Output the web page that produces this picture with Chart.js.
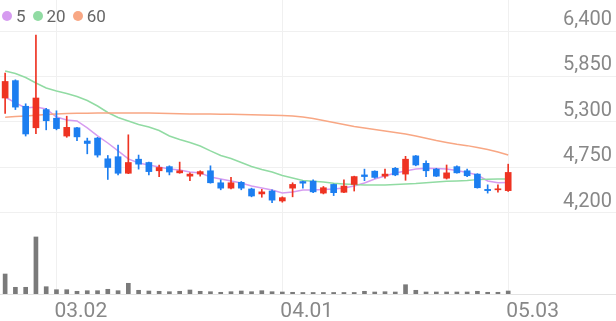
<!DOCTYPE html>
<html>
<head>
<meta charset="utf-8">
<script src="https://cdn.jsdelivr.net/npm/chart.js@4.4.1/dist/chart.umd.min.js"></script>
<style>
  html, body { margin: 0; padding: 0; background: #fff; }
  #wrap { position: relative; width: 616px; height: 321px; }
  #legend { position: absolute; left: 2px; top: 6px; display: flex; align-items: center;
            font: 17px Roboto, sans-serif; color: #666; line-height: 20px; }
  #legend .item { display: flex; align-items: center; margin-right: 7px; }
  #legend .dot { width: 10px; height: 10px; border-radius: 50%; margin-right: 4px; }
</style>
</head>
<body>
<div id="wrap">
  <canvas id="chart"></canvas>
  <div id="legend"></div>
</div>
<script>
// trading days shown (MM.DD)
const dates = ['02.22','02.23','02.24','02.25','02.26',
  '03.02','03.03','03.04','03.05','03.08','03.09','03.10','03.11','03.12','03.15','03.16',
  '03.17','03.18','03.19','03.22','03.23','03.24','03.25','03.26','03.29','03.30','03.31',
  '04.01','04.02','04.05','04.06','04.07','04.08','04.09','04.12','04.13','04.14','04.15',
  '04.16','04.19','04.20','04.21','04.22','04.23','04.26','04.27','04.28','04.29','04.30',
  '05.03'];
const tickLabels = ['03.02', '04.01', '05.03'];
const priceTicks = [4200, 4750, 5300, 5850, 6400];

const opens  = [5590,5800,5490,5230,5450,5345,5130,5230,5070,5105, 4855,4880,4680,4850,4810,4710,4760,4685,4645,4670,
                4710,4565,4500,4570,4490,4430,4465,4345,4500,4580, 4585,4440,4545,4450,4545,4660,4705,4645,4740,4670,
                4890,4800,4730,4620,4760,4710,4670,4485,4480,4470];
const highs  = [5890,5810,5520,6350,5465,5435,5370,5235,5105,5115, 4895,5020,5145,4900,4815,4780,4770,4815,4685,4710,
                4770,4600,4630,4580,4500,4485,4480,4395,4565,4585, 4600,4520,4550,4600,4645,4730,4710,4730,4750,4885,
                4895,4830,4740,4780,4770,4730,4675,4540,4540,4790];
const lows   = [5405,5450,5130,5160,5205,5205,5115,5075,4915,4875, 4605,4660,4675,4730,4660,4640,4660,4680,4590,4645,
                4560,4480,4490,4480,4395,4390,4325,4330,4395,4500, 4445,4430,4410,4445,4465,4590,4620,4620,4650,4595,
                4770,4640,4640,4610,4680,4640,4500,4440,4450,4460];
const closes = [5790,5480,5155,5590,5315,5220,5235,5120,5040,4900, 4750,4680,4810,4790,4700,4750,4695,4710,4670,4700,
                4565,4500,4565,4500,4405,4455,4355,4385,4545,4560, 4455,4505,4445,4525,4640,4640,4630,4670,4660,4850,
                4780,4710,4645,4685,4685,4650,4505,4470,4485,4690];

const ma5  = [5602,5530,5469,5481,5457,5360,5324,5312,5228,5131, 5046,4950,4853,4804,4780,4756,4732,4720,4696,4684,
              4635,4611,4587,4563,4526,4502,4478,4442,4454,4478, 4478,4484,4490,4502,4526,4563,4611,4647,4684,4708,
              4732,4740,4738,4732,4714,4690,4659,4587,4566,4569];
const ma20 = [5917,5886,5838,5771,5711,5675,5645,5608,5560,5493, 5415,5354,5312,5270,5240,5197,5131,5088,5052,5010,
              4950,4895,4859,4810,4762,4726,4696,4653,4623,4593, 4583,4575,4559,4551,4545,4538,4538,4538,4545,4551,
              4557,4566,4575,4583,4587,4593,4603,4607,4611,4611];
const ma60 = [5357,5367,5373,5381,5391,5397,5402,5405,5406,5409, 5409,5409,5409,5409,5409,5405,5403,5400,5397,5397,
              5397,5394,5393,5391,5388,5385,5382,5379,5373,5360, 5342,5318,5294,5270,5246,5228,5209,5191,5173,5155,
              5131,5103,5076,5052,5030,5014,4992,4968,4937,4901];

const volumes = [340000,114000,114000,970000,124000,73000,73000,46000,56000,56000,
                 80000,56000,182000,63000,51000,46000,39000,46000,68000,46000,
                 39000,29000,39000,51000,39000,56000,39000,34000,29000,26000,
                 26000,26000,26000,26000,26000,46000,34000,39000,34000,158000,
                 63000,34000,34000,34000,34000,34000,46000,29000,29000,51000];

const SLOTS = 60; // room left empty on the right of the last candle
const UP = '#ee3322', DOWN = '#1c7ef0';
const maLines = [
  { label: '5',  data: ma5,  color: '#d69cf0' },
  { label: '20', data: ma20, color: '#91dba3' },
  { label: '60', data: ma60, color: '#f8a784' }
];

const candleColor = ctx => closes[ctx.dataIndex] >= opens[ctx.dataIndex] ? UP : DOWN;
const pts = arr => arr.map((v, i) => ({ x: i, y: v }));

// html legend
const legend = document.getElementById('legend');
maLines.forEach(m => {
  const item = document.createElement('span');
  item.className = 'item';
  item.innerHTML = '<span class="dot" style="background:' + m.color + '"></span>' + m.label;
  legend.appendChild(item);
});

const datasets = [];
maLines.slice().reverse().forEach(m => {
  datasets.push({ type: 'line', label: m.label, data: pts(m.data), yAxisID: 'y',
    borderColor: m.color, borderWidth: 1.5, pointRadius: 0, tension: 0, order: 5 });
});
datasets.push({ type: 'bar', label: 'volume', yAxisID: 'vol', order: 6, grouped: false,
  data: volumes.map((v, i) => ({ x: i, y: v })), backgroundColor: '#7a7a7a', barThickness: 4 });
datasets.push({ type: 'bar', label: 'wick', yAxisID: 'y', order: 2, grouped: false,
  data: lows.map((l, i) => ({ x: i, y: [l, highs[i]] })), backgroundColor: candleColor, barThickness: 1 });
datasets.push({ type: 'bar', label: 'body', yAxisID: 'y', order: 1, grouped: false, minBarLength: 1,
  data: opens.map((o, i) => ({ x: i, y: [o, closes[i]] })), backgroundColor: candleColor, barThickness: 6 });

new Chart(document.getElementById('chart'), {
  type: 'bar',
  data: { datasets },
  options: {
    responsive: true,
    maintainAspectRatio: false,
    animation: false,
    layout: { padding: 0 },
    plugins: { legend: { display: false }, tooltip: { enabled: false } },
    scales: {
      x: {
        type: 'linear', min: -0.5, max: SLOTS - 0.5, offset: false,
        afterBuildTicks: s => { s.ticks = tickLabels.map(l => ({ value: dates.indexOf(l) })); },
        afterFit: s => { s.height = 27; s.paddingLeft = 0; s.paddingRight = 0; },
        ticks: { callback: v => dates[v], align: 'start', padding: 5, labelOffset: -2, autoSkip: false, maxRotation: 0,
                 color: '#888', font: { family: 'Roboto', size: 21 } },
        grid: { color: '#f0f0f0', drawTicks: false, offset: false },
        border: { color: '#e3e3e3' }
      },
      y: {
        position: 'right', min: 3220, max: 6775,
        afterBuildTicks: s => { s.ticks = priceTicks.map(v => ({ value: v })); },
        afterFit: s => { s.width = 0; s.paddingTop = 0; s.paddingBottom = 0; },
        ticks: { mirror: true, padding: -4, labelOffset: -11, color: '#888',
                 font: { family: 'Roboto', size: 20 }, callback: v => v.toLocaleString('en-US') },
        grid: { color: '#f0f0f0', drawTicks: false },
        border: { display: false }
      },
      vol: { display: false, min: 0, max: 5000000 }
    }
  }
});
</script>
</body>
</html>
